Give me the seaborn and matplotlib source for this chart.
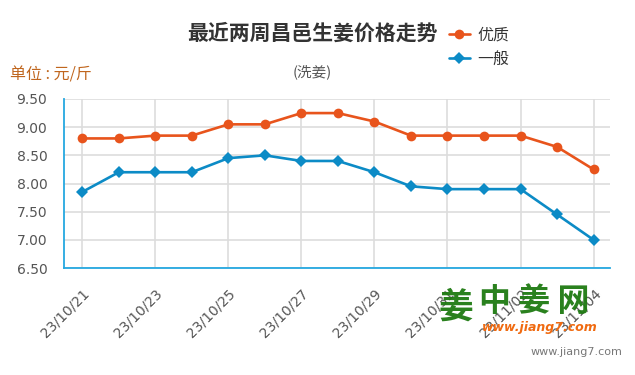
import matplotlib
matplotlib.use("Agg")
import matplotlib.pyplot as plt
import seaborn as sns
import pandas as pd

dates = ["23/10/21", "23/10/22", "23/10/23", "23/10/24", "23/10/25", "23/10/26", "23/10/27",
         "23/10/28", "23/10/29", "23/10/30", "23/10/31", "23/11/01", "23/11/02", "23/11/03", "23/11/04"]
premium = [8.80, 8.80, 8.85, 8.85, 9.05, 9.05, 9.25, 9.25, 9.10, 8.85, 8.85, 8.85, 8.85, 8.65, 8.25]
general = [7.85, 8.20, 8.20, 8.20, 8.45, 8.50, 8.40, 8.40, 8.20, 7.95, 7.90, 7.90, 7.90, 7.45, 7.00]
series_names = ["优质", "一般"]
y_ticks = [6.50, 7.00, 7.50, 8.00, 8.50, 9.00, 9.50]

sns.set_theme(style="white")
plt.rcParams['font.family'] = ['Noto Sans CJK SC', 'DejaVu Sans']

df = pd.DataFrame({
    "idx": list(range(len(dates))) * 2,
    "price": premium + general,
    "grade": [series_names[0]] * len(dates) + [series_names[1]] * len(dates),
})

ORANGE = "#E8541C"
BLUE = "#0C8BC6"
AXBLUE = "#25A8E0"

fig = plt.figure(figsize=(6.35, 3.75), dpi=100)
ax = fig.add_axes([64 / 635, 1 - 268 / 375, (610 - 64) / 635, (268 - 99) / 375])

sns.lineplot(data=df, x="idx", y="price", hue="grade", style="grade",
             markers={series_names[0]: "o", series_names[1]: "D"}, dashes=False,
             palette={series_names[0]: ORANGE, series_names[1]: BLUE},
             linewidth=1.9, markersize=7, markeredgewidth=0, ax=ax, clip_on=False, zorder=3)
for ln in ax.lines:
    if ln.get_marker() == "D":
        ln.set_markersize(6)

ax.set_xlim(-0.5, 14.45)
ax.set_ylim(6.5, 9.5)
ax.set_yticks(y_ticks)
ax.set_yticklabels([f"{v:.2f}" for v in y_ticks], fontsize=10, color="#555555", family="DejaVu Sans")
tick_idx = list(range(0, len(dates), 2))
ax.set_xticks(tick_idx)
ax.set_xticklabels([dates[i] for i in tick_idx], rotation=45, ha="right", rotation_mode="anchor",
                   fontsize=10, color="#555555", family="DejaVu Sans")
ax.set_xlabel("")
ax.set_ylabel("")

ax.grid(True, color="#DDDDDD", linewidth=1.2, zorder=0)
ax.set_axisbelow(True)
for s in ["top", "right"]:
    ax.spines[s].set_visible(False)
for s in ["left", "bottom"]:
    ax.spines[s].set_color(AXBLUE)
    ax.spines[s].set_linewidth(1.3)
ax.tick_params(axis="both", which="both", length=9, width=1.3, color=AXBLUE, direction="out", pad=3)
ax.tick_params(axis="x", pad=4)

leg = ax.legend(loc="upper left", bbox_to_anchor=(449 / 635, 1 - 27 / 375), bbox_transform=fig.transFigure,
                frameon=False, fontsize=11.5, handlelength=1.3, handletextpad=0.45, labelspacing=0.4,
                borderaxespad=0, borderpad=0)
for t in leg.get_texts():
    t.set_color("#333333")

fig.text(312 / 635, 1 - 33 / 375, "最近两周昌邑生姜价格走势", ha="center", va="center",
         fontsize=15, fontweight="bold", color="#333333")
fig.text(312 / 635, 1 - 72 / 375, "(洗姜)", ha="center", va="center", fontsize=10.5, color="#555555")
fig.text(10 / 635, 1 - 75 / 375, "单位 : 元/斤", ha="left", va="center", fontsize=11.5, color="#C0661E")

# watermark
fig.text(438 / 635, 1 - 307 / 375, "姜", ha="left", va="center", fontsize=25, fontweight="bold",
         color="#1E7A12", alpha=0.95)
fig.text(479 / 635, 1 - 302 / 375, "中 姜 网", ha="left", va="center", fontsize=23, fontweight="bold",
         color="#1E7A12", alpha=0.95)
fig.text(482 / 635, 1 - 327 / 375, "www.jiang7.com", ha="left", va="center", fontsize=9, fontweight="bold",
         style="italic", color="#F06A10", family="DejaVu Sans")
fig.text(622 / 635, 1 - 352 / 375, "www.jiang7.com", ha="right", va="center", fontsize=8,
         color="#777777", family="DejaVu Sans")

fig.savefig("out.png", dpi=100)
